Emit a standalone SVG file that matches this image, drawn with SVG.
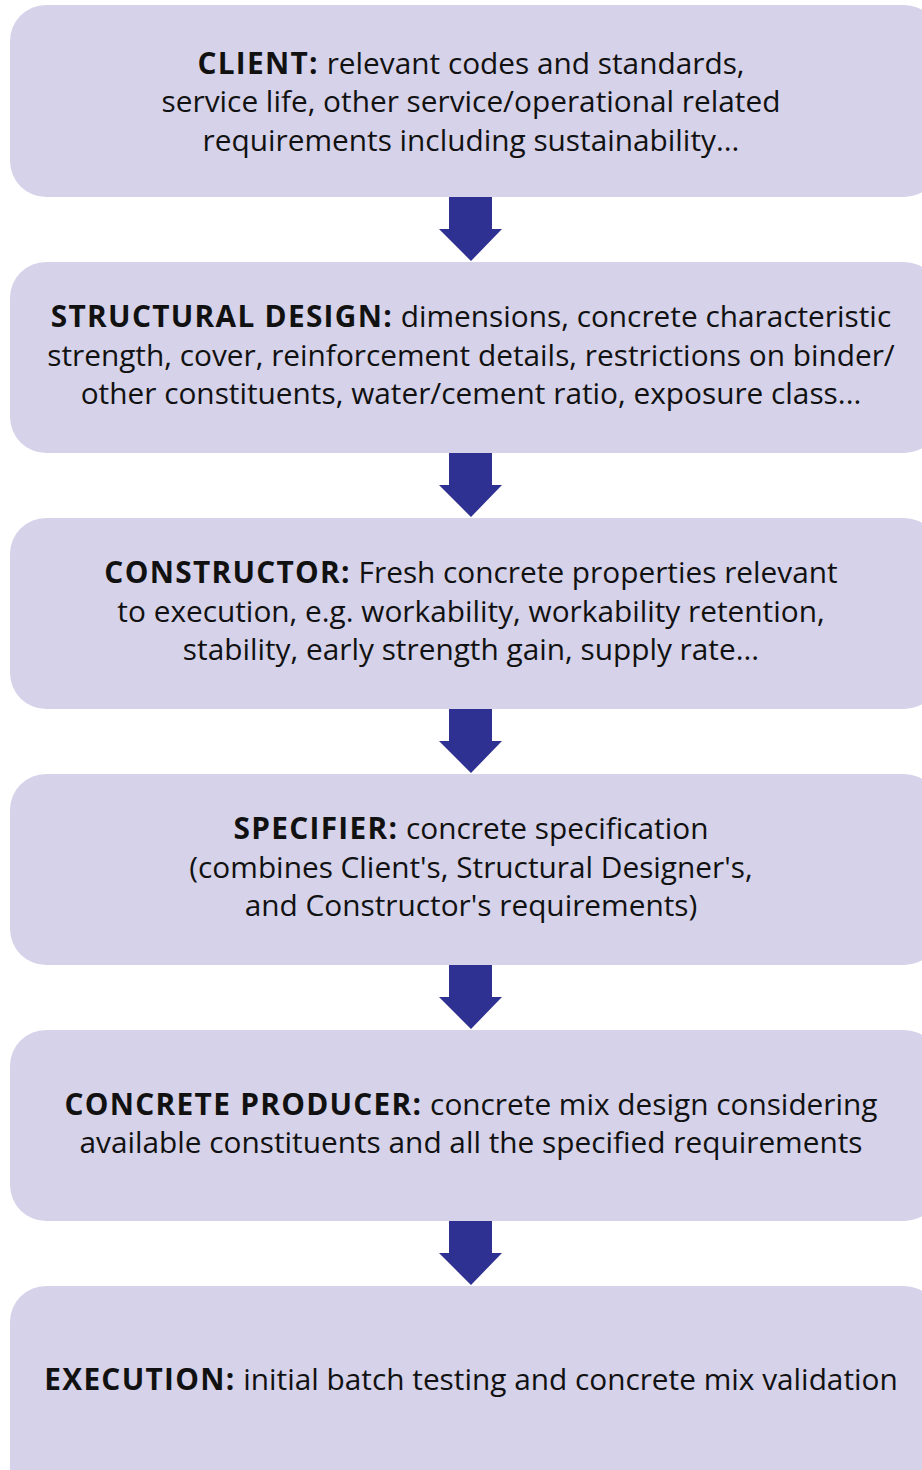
<svg xmlns="http://www.w3.org/2000/svg" width="922" height="1470" viewBox="0 0 922 1470">
  <style>
    .box { fill: #d5d2e9; }
    .arrow { fill: #2e3192; }
    text { font-family: "Open Sans", "Noto Sans", sans-serif; font-size: 29.8px; fill: #111111; text-anchor: middle; }
    .b { font-weight: bold; letter-spacing: 1.3px; }
  </style>
  <defs>
    <!-- block arrow: shaft plus triangular head, drawn from origin at the shaft top centre -->
    <path id="down" d="M-22,0 H21 V32 H31 L0,64 L-32,32 H-22 Z"/>
  </defs>

  <g id="connectors">
    <use href="#down" class="arrow" x="471" y="197"/>
    <use href="#down" class="arrow" x="471" y="453"/>
    <use href="#down" class="arrow" x="471" y="709"/>
    <use href="#down" class="arrow" x="471" y="965"/>
    <use href="#down" class="arrow" x="471" y="1221"/>
  </g>

  <g id="client">
    <rect class="box" x="10" y="5" width="930" height="192" rx="36"/>
    <text x="471" y="74"><tspan class="b">CLIENT:</tspan> relevant codes and standards,</text>
    <text x="471" y="112">service life, other service/operational related</text>
    <text x="471" y="151">requirements including sustainability...</text>
  </g>

  <g id="structural-design">
    <rect class="box" x="10" y="262" width="930" height="191" rx="36"/>
    <text x="471" y="327"><tspan class="b">STRUCTURAL DESIGN:</tspan> dimensions, concrete characteristic</text>
    <text x="471" y="366">strength, cover, reinforcement details, restrictions on binder/</text>
    <text x="471" y="404">other constituents, water/cement ratio, exposure class...</text>
  </g>

  <g id="constructor">
    <rect class="box" x="10" y="518" width="930" height="191" rx="36"/>
    <text x="471" y="583"><tspan class="b">CONSTRUCTOR:</tspan> Fresh concrete properties relevant</text>
    <text x="471" y="622">to execution, e.g. workability, workability retention,</text>
    <text x="471" y="660">stability, early strength gain, supply rate...</text>
  </g>

  <g id="specifier">
    <rect class="box" x="10" y="774" width="930" height="191" rx="36"/>
    <text x="471" y="839"><tspan class="b">SPECIFIER:</tspan> concrete specification</text>
    <text x="471" y="878">(combines Client's, Structural Designer's,</text>
    <text x="471" y="916">and Constructor's requirements)</text>
  </g>

  <g id="concrete-producer">
    <rect class="box" x="10" y="1030" width="930" height="191" rx="36"/>
    <text x="471" y="1115"><tspan class="b">CONCRETE PRODUCER:</tspan> concrete mix design considering</text>
    <text x="471" y="1153">available constituents and all the specified requirements</text>
  </g>

  <g id="execution">
    <rect class="box" x="10" y="1286" width="930" height="220" rx="36"/>
    <text x="471" y="1390"><tspan class="b">EXECUTION:</tspan> initial batch testing and concrete mix validation</text>
  </g>
</svg>
